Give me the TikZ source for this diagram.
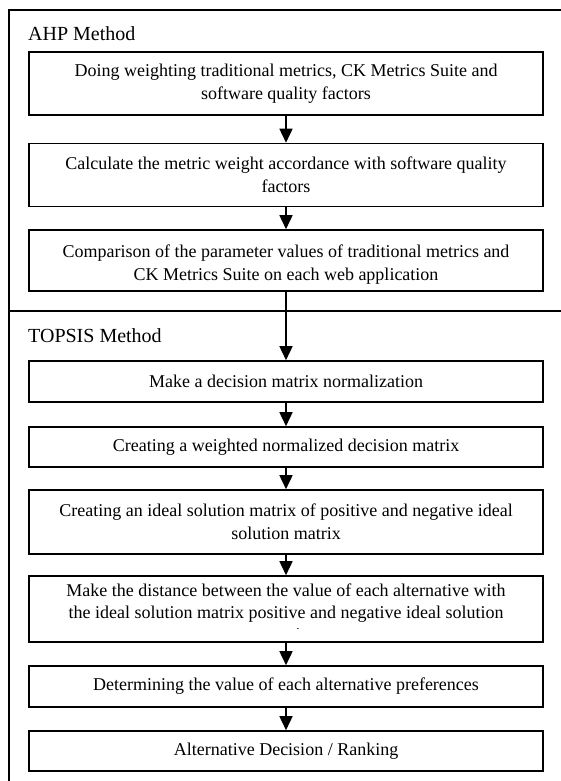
\documentclass[tikz,border=0pt]{standalone}
\usepackage{fontspec}
\setmainfont{Liberation Serif}
\usetikzlibrary{arrows.meta}
\begin{document}
\begin{tikzpicture}[x=1pt,y=-1pt,
  boxfont/.style={font=\fontsize{18}{23}\selectfont},
  stepbox/.style={draw, line width=1.6pt, minimum width=514pt, align=center,
    boxfont, inner sep=0pt},
  flow/.style={-{Triangle[width=13pt,length=14pt]}, line width=1.6pt},
  frame/.style={line width=1.4pt},
  title/.style={anchor=west, font=\fontsize{20}{24}\selectfont, inner sep=0pt}]
\useasboundingbox (0,0) rectangle (561,781);
\draw[frame] (9,781) -- (9,10) -- (561,10);
\draw[frame] (9,311) -- (561,311);
\node[title] (ahp) at (28,34) {AHP Method};
\node[title] (topsis) at (28,336) {TOPSIS Method};
\node[stepbox, minimum height=63pt] (b1) at (286,83.5)
  {Doing weighting traditional metrics, CK Metrics Suite and\\software quality factors};
\node[stepbox, minimum height=63pt] (b2) at (286,175)
  {Calculate the metric weight accordance with software quality\\factors};
\node[stepbox, minimum height=61pt, path picture={
    \clip ([yshift=8pt]path picture bounding box.south west) rectangle (path picture bounding box.north east);
    \node[align=center, boxfont, inner sep=0pt] (t3) at ([yshift=-4.5pt]path picture bounding box.center)
      {Comparison of the parameter values of traditional metrics and\\CK Metrics Suite on each web application};}]
  (b3) at (286,260.5) {};
\node[stepbox, minimum height=41pt] (b4) at (286,381.5)
  {Make a decision matrix normalization};
\node[stepbox, minimum height=40pt] (b5) at (286,447)
  {Creating a weighted normalized decision matrix};
\node[stepbox, minimum height=64pt] (b6) at (286,522)
  {Creating an ideal solution matrix of positive and negative ideal\\solution matrix};
\node[stepbox, minimum height=66pt, path picture={
    \clip ([yshift=14pt]path picture bounding box.south west) rectangle (path picture bounding box.north east);
    \node[align=center, font=\fontsize{18}{22}\selectfont, inner sep=0pt] (t7) at ([yshift=-3pt]path picture bounding box.center)
      {Make the distance between the value of each alternative with\\the ideal solution matrix positive and negative ideal solution\\matrix};}]
  (b7) at (286,609) {};
\node[stepbox, minimum height=41pt] (b8) at (286,686.5)
  {Determining the value of each alternative preferences};
\node[stepbox, minimum height=40pt] (b9) at (286,751)
  {Alternative Decision / Ranking};
\draw[flow] (b1) -- (b2);
\draw[flow] (b2) -- (b3);
\draw[flow] (b3) -- (b4);
\draw[flow] (b4) -- (b5);
\draw[flow] (b5) -- (b6);
\draw[flow] (b6) -- (b7);
\draw[flow] (b7) -- (b8);
\draw[flow] (b8) -- (b9);
\end{tikzpicture}
\end{document}
